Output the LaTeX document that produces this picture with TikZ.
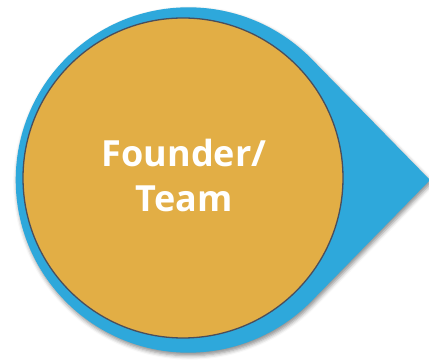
\documentclass[tikz,border=0pt]{standalone}
\usepackage{fontspec}
\setmainfont{Open Sans}
\usetikzlibrary{calc,shadows.blur}
\definecolor{pinblue}{RGB}{46,168,219}
\definecolor{pingold}{RGB}{226,174,69}
\definecolor{pinrim}{RGB}{74,78,92}
\tikzset{
  pinshape/.style={fill=pinblue, draw=none,
    blur shadow={shadow xshift=1.5pt, shadow yshift=-3pt, shadow blur radius=4pt, shadow opacity=45}},
  goldcircle/.style={circle, fill=pingold, draw=pinrim, line width=1.3pt, minimum size=320pt, inner sep=0pt},
  pinlabel/.style={text=white, font=\fontsize{36}{45}\selectfont\bfseries, align=center}
}
\begin{document}
\begin{tikzpicture}[x=1pt,y=1pt]
\useasboundingbox (0,0) rectangle (429,361);
\coordinate (c) at (188.4,181);
\coordinate (tip) at (430,181);
\path[pinshape] (tip) -- ($(c)+(44.4:172.7)$) arc[start angle=44.4, end angle=315.6, radius=172.7] -- cycle;
\node[goldcircle] (g) at (183,183) {};
\node[pinlabel] (t) at (184,185) {Founder/\\Team};
\end{tikzpicture}
\end{document}
